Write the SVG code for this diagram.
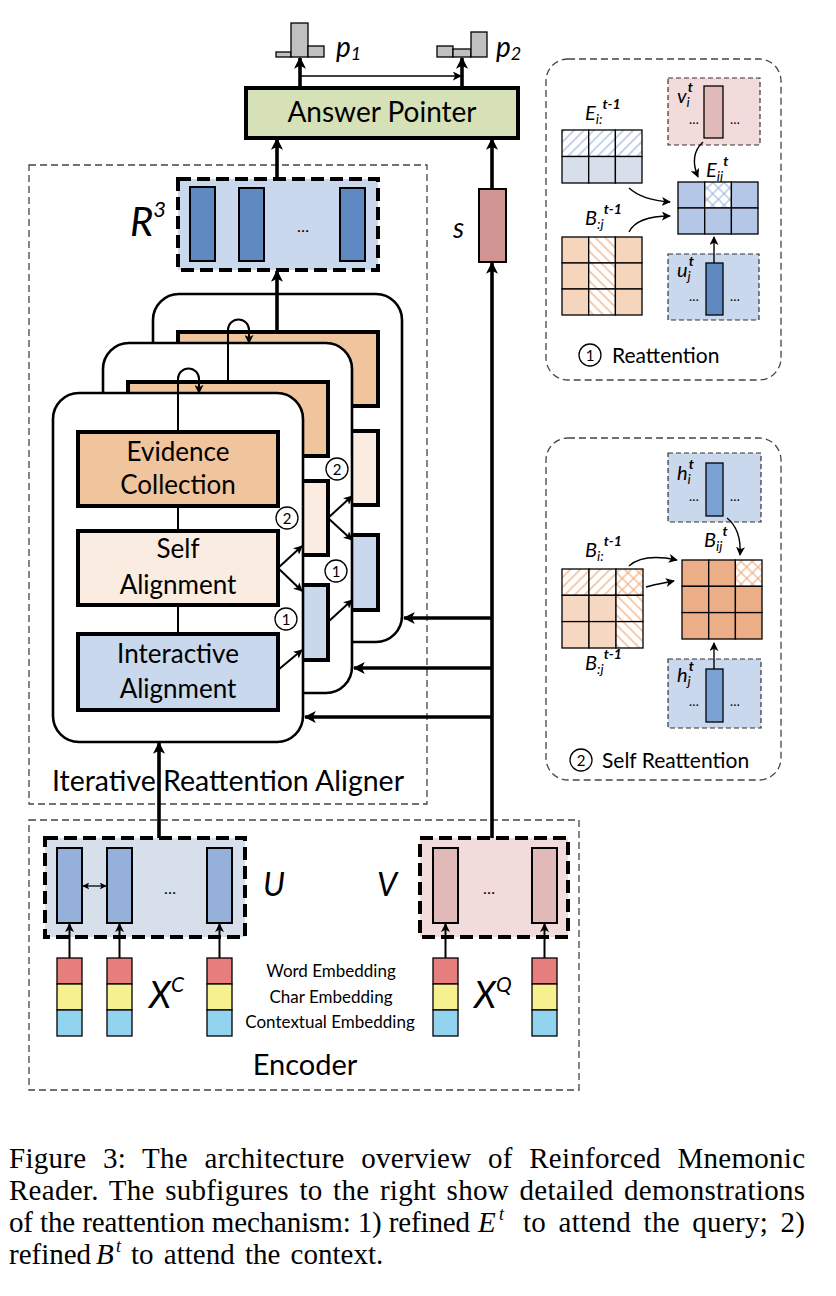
<svg xmlns="http://www.w3.org/2000/svg" width="836" height="1296" viewBox="0 0 836 1296">
<defs>
<style>
.t{font-family:Lato,"Liberation Sans",sans-serif;fill:#000}
.it{font-family:Lato,"Liberation Sans",sans-serif;font-style:italic;fill:#000}
.cap{font-family:"Liberation Serif","Times New Roman",serif;font-size:29px;fill:#000}
.sup{font-family:"Liberation Serif","Times New Roman",serif;font-size:18px;font-style:italic;fill:#000}
.box{stroke:#000;stroke-width:4}
.card{fill:#fff;stroke:#000;stroke-width:2.6}
.bar{stroke:#000;stroke-width:2}
.thin{stroke:#000;stroke-width:1.3}
.dash{stroke:#000;stroke-width:4;stroke-dasharray:13 6}
.sdash{stroke:#333;stroke-width:1.2;stroke-dasharray:5 3}
.odash{fill:none;stroke:#444;stroke-width:1.3;stroke-dasharray:7 4}
.ln{fill:none;stroke:#000;stroke-width:2}
.thk{fill:none;stroke:#000;stroke-width:3.6}
.c{fill:#fff;stroke:#000;stroke-width:1.3}
</style>
<marker id="ah" viewBox="0 0 10 10" refX="9" refY="5" markerWidth="12" markerHeight="12" markerUnits="userSpaceOnUse" orient="auto"><path d="M0,0 L10,5 L0,10 L2.5,5 z" fill="#000"/></marker>
<marker id="as" viewBox="0 0 10 10" refX="9" refY="5" markerWidth="9" markerHeight="9" markerUnits="userSpaceOnUse" orient="auto"><path d="M0,0 L10,5 L0,10 L2.5,5 z" fill="#000"/></marker>
<marker id="ad" viewBox="0 0 10 10" refX="9" refY="5" markerWidth="7" markerHeight="7" markerUnits="userSpaceOnUse" orient="auto-start-reverse"><path d="M0,0 L10,5 L0,10 L2.5,5 z" fill="#000"/></marker>
<pattern id="hbF" width="7" height="7" patternUnits="userSpaceOnUse" patternTransform="rotate(45)"><rect width="7" height="7" fill="#fff"/><line x1="1" y1="0" x2="1" y2="7" stroke="#9DB5DD" stroke-width="1.2"/></pattern>
<pattern id="hoB" width="7" height="7" patternUnits="userSpaceOnUse" patternTransform="rotate(-45)"><rect width="7" height="7" fill="#fff"/><line x1="1" y1="0" x2="1" y2="7" stroke="#F0A878" stroke-width="1.2"/></pattern>
<pattern id="hoF" width="7" height="7" patternUnits="userSpaceOnUse" patternTransform="rotate(45)"><rect width="7" height="7" fill="#fff"/><line x1="1" y1="0" x2="1" y2="7" stroke="#F0A878" stroke-width="1.2"/></pattern>
<pattern id="xb" width="8" height="8" patternUnits="userSpaceOnUse" patternTransform="rotate(45)"><rect width="8" height="8" fill="#fff"/><line x1="1" y1="0" x2="1" y2="8" stroke="#9DB5DD" stroke-width="1.1"/><line x1="0" y1="1" x2="8" y2="1" stroke="#9DB5DD" stroke-width="1.1"/></pattern>
<pattern id="xo" width="8" height="8" patternUnits="userSpaceOnUse" patternTransform="rotate(45)"><rect width="8" height="8" fill="#fff"/><line x1="1" y1="0" x2="1" y2="8" stroke="#F0A878" stroke-width="1.1"/><line x1="0" y1="1" x2="8" y2="1" stroke="#F0A878" stroke-width="1.1"/></pattern>
</defs>
<rect width="836" height="1296" fill="#fff"/>

<!-- outer dashed regions -->
<g id="aligner-region">
<rect x="29" y="165" width="398" height="639" class="odash"/>
<text x="228" y="791" class="t" font-size="28.5" text-anchor="middle">Iterative Reattention Aligner</text>
</g>
<g id="encoder-region">
<rect x="29" y="820" width="550" height="270" class="odash"/>
<text x="305" y="1075" class="t" font-size="29" text-anchor="middle">Encoder</text>
</g>

<!-- output -->
<g id="p1">
<rect x="276" y="52" width="15" height="5" fill="#C0C0C0" class="thin"/>
<rect x="291" y="23" width="17" height="34" fill="#C0C0C0" class="thin"/>
<rect x="308" y="46" width="16" height="11" fill="#C0C0C0" class="thin"/>
<text x="336" y="57" class="it" font-size="28">p<tspan font-size="18" dy="3">1</tspan></text>
</g>
<g id="p2">
<rect x="437" y="46" width="16" height="11" fill="#C0C0C0" class="thin"/>
<rect x="453" y="49" width="18" height="8" fill="#C0C0C0" class="thin"/>
<rect x="471" y="32" width="16" height="25" fill="#C0C0C0" class="thin"/>
<text x="496" y="57" class="it" font-size="28">p<tspan font-size="18" dy="3">2</tspan></text>
</g>
<g id="answer-pointer">
<rect x="246" y="88" width="272" height="50" fill="#D6E1B8" class="box"/>
<text x="382" y="122" class="t" font-size="28" text-anchor="middle">Answer Pointer</text>
</g>
<g id="R3">
<rect x="178" y="179" width="200" height="91" fill="#C9D8ED" class="dash"/>
<rect x="190" y="187" width="25" height="74" fill="#5F8AC1" class="bar"/>
<rect x="239" y="188" width="25" height="73" fill="#5F8AC1" class="bar"/>
<rect x="340" y="188" width="25" height="73" fill="#5F8AC1" class="bar"/>
<text x="303" y="232" class="t" font-size="16" text-anchor="middle">…</text>
<text x="130" y="236" class="it" font-size="40">R<tspan font-size="22" dy="-19">3</tspan></text>
</g>
<g id="s">
<rect x="479" y="189" width="27" height="73" fill="#D09592" class="bar"/>
<text x="453" y="238" class="it" font-size="28">s</text>
</g>

<!-- stacked aligner cards -->
<g id="card3">
<rect x="153" y="294" width="249" height="348" rx="26" class="card"/>
<rect x="178" y="332" width="200" height="74" fill="#F0C49C" class="box"/>
<rect x="178" y="431" width="200" height="74" fill="#FAECE1" class="box"/>
<rect x="178" y="535" width="200" height="75" fill="#C9D8ED" class="box"/>
</g>
<g id="card2">
<rect x="103" y="343" width="249" height="350" rx="26" class="card"/>
<rect x="128" y="382" width="200" height="74" fill="#F0C49C" class="box"/>
<rect x="128" y="481" width="200" height="74" fill="#FAECE1" class="box"/>
<rect x="128" y="585" width="200" height="75" fill="#C9D8ED" class="box"/>
</g>
<g id="card1">
<rect x="53" y="393" width="250" height="349" rx="26" class="card"/>
</g>
<g id="evidence-collection">
<rect x="78" y="432" width="200" height="74" fill="#F0C49C" class="box"/>
<text x="178" y="461" class="t" font-size="26" text-anchor="middle">Evidence</text>
<text x="178" y="494" class="t" font-size="26" text-anchor="middle">Collection</text>
</g>
<g id="self-alignment">
<rect x="78" y="531" width="200" height="74" fill="#FAECE1" class="box"/>
<text x="178" y="558" class="t" font-size="26" text-anchor="middle">Self</text>
<text x="178" y="594" class="t" font-size="26" text-anchor="middle">Alignment</text>
</g>
<g id="interactive-alignment">
<rect x="78" y="634" width="200" height="76" fill="#C9D8ED" class="box"/>
<text x="178" y="663" class="t" font-size="26" text-anchor="middle">Interactive</text>
<text x="178" y="698" class="t" font-size="26" text-anchor="middle">Alignment</text>
</g>

<!-- encoder -->
<g id="U">
<rect x="45" y="838" width="200" height="99" fill="#D7E0EA" class="dash"/>
<rect x="57" y="848" width="25" height="75" fill="#95B1D9" class="bar"/>
<rect x="107" y="848" width="25" height="75" fill="#95B1D9" class="bar"/>
<rect x="207" y="848" width="25" height="75" fill="#95B1D9" class="bar"/>
<text x="170" y="894" class="t" font-size="16" text-anchor="middle">…</text>
<text x="263" y="896" class="it" font-size="32">U</text>
</g>
<g id="V">
<rect x="420" y="838" width="148" height="99" fill="#F2DCDB" class="dash"/>
<rect x="433" y="848" width="25" height="75" fill="#E0B9B8" class="bar"/>
<rect x="532" y="848" width="25" height="75" fill="#E0B9B8" class="bar"/>
<text x="489" y="894" class="t" font-size="16" text-anchor="middle">…</text>
<text x="377" y="896" class="it" font-size="32">V</text>
</g>
<g id="XC">
<g class="thin">
<rect x="57" y="958" width="25" height="26" fill="#E67E7E"/><rect x="57" y="984" width="25" height="26" fill="#F6F08E"/><rect x="57" y="1010" width="25" height="26" fill="#92D3F0"/>
<rect x="107" y="958" width="25" height="26" fill="#E67E7E"/><rect x="107" y="984" width="25" height="26" fill="#F6F08E"/><rect x="107" y="1010" width="25" height="26" fill="#92D3F0"/>
<rect x="207" y="958" width="25" height="26" fill="#E67E7E"/><rect x="207" y="984" width="25" height="26" fill="#F6F08E"/><rect x="207" y="1010" width="25" height="26" fill="#92D3F0"/>
</g>
<text x="149" y="1008" class="it" font-size="36">X<tspan font-size="21" dy="-16">C</tspan></text>
</g>
<g id="XQ">
<g class="thin">
<rect x="433" y="958" width="25" height="26" fill="#E67E7E"/><rect x="433" y="984" width="25" height="26" fill="#F6F08E"/><rect x="433" y="1010" width="25" height="26" fill="#92D3F0"/>
<rect x="532" y="958" width="25" height="26" fill="#E67E7E"/><rect x="532" y="984" width="25" height="26" fill="#F6F08E"/><rect x="532" y="1010" width="25" height="26" fill="#92D3F0"/>
</g>
<text x="474" y="1008" class="it" font-size="36">X<tspan font-size="21" dy="-16">Q</tspan></text>
</g>
<g id="embedding-legend">
<text x="331" y="977" class="t" font-size="17" text-anchor="middle">Word Embedding</text>
<text x="331" y="1003" class="t" font-size="17" text-anchor="middle">Char Embedding</text>
<text x="330" y="1028" class="t" font-size="17" text-anchor="middle">Contextual Embedding</text>
</g>

<!-- subfigure 1 -->
<g id="reattention">
<rect x="546" y="59" width="235" height="321" rx="22" class="odash"/>
<rect x="668" y="78" width="92" height="67" fill="#F2DCDB" class="sdash"/>
<rect x="704" y="86" width="19" height="52" fill="#E0B9B8" class="thin"/>
<text x="694" y="124" class="t" font-size="13" text-anchor="middle">…</text>
<text x="735" y="124" class="t" font-size="13" text-anchor="middle">…</text>
<text x="677" y="103" class="it" font-size="20">v<tspan font-size="14" dy="4">i</tspan><tspan font-size="14" font-weight="bold" dx="-2" dy="-15">t</tspan></text>
<g class="thin">
<rect x="562" y="130" width="26.7" height="26.5" fill="url(#hbF)"/><rect x="588.7" y="130" width="26.7" height="26.5" fill="url(#hbF)"/><rect x="615.4" y="130" width="26.6" height="26.5" fill="url(#hbF)"/>
<rect x="562" y="156.5" width="26.7" height="26.5" fill="#D6DFEA"/><rect x="588.7" y="156.5" width="26.7" height="26.5" fill="#D6DFEA"/><rect x="615.4" y="156.5" width="26.6" height="26.5" fill="#D6DFEA"/>
</g>
<text x="585" y="120" class="it" font-size="20">E<tspan font-size="14" dy="4">i:</tspan><tspan font-size="14" font-weight="bold" dy="-15">t-1</tspan></text>
<text x="585" y="225" class="it" font-size="20">B<tspan font-size="14" dy="4">:j</tspan><tspan font-size="14" font-weight="bold" dy="-15">t-1</tspan></text>
<g class="thin">
<rect x="562" y="237" width="26.7" height="26" fill="#F6D5BD"/><rect x="588.7" y="237" width="26.7" height="26" fill="url(#hoB)"/><rect x="615.4" y="237" width="26.6" height="26" fill="#F6D5BD"/>
<rect x="562" y="263" width="26.7" height="26" fill="#F6D5BD"/><rect x="588.7" y="263" width="26.7" height="26" fill="url(#hoB)"/><rect x="615.4" y="263" width="26.6" height="26" fill="#F6D5BD"/>
<rect x="562" y="289" width="26.7" height="26" fill="#F6D5BD"/><rect x="588.7" y="289" width="26.7" height="26" fill="url(#hoB)"/><rect x="615.4" y="289" width="26.6" height="26" fill="#F6D5BD"/>
</g>
<text x="706" y="177" class="it" font-size="20">E<tspan font-size="14" dy="4">ij</tspan><tspan font-size="14" font-weight="bold" dy="-15">t</tspan></text>
<g class="thin">
<rect x="678" y="182" width="26.7" height="26" fill="#B4C7E7"/><rect x="704.7" y="182" width="26.7" height="26" fill="url(#xb)"/><rect x="731.4" y="182" width="26.6" height="26" fill="#B4C7E7"/>
<rect x="678" y="208" width="26.7" height="26" fill="#B4C7E7"/><rect x="704.7" y="208" width="26.7" height="26" fill="#B4C7E7"/><rect x="731.4" y="208" width="26.6" height="26" fill="#B4C7E7"/>
</g>
<rect x="668" y="254" width="91" height="66" fill="#C9D8ED" class="sdash"/>
<rect x="706" y="263" width="17" height="52" fill="#5F8AC1" class="thin"/>
<text x="694" y="301" class="t" font-size="13" text-anchor="middle">…</text>
<text x="735" y="301" class="t" font-size="13" text-anchor="middle">…</text>
<text x="677" y="277" class="it" font-size="20">u<tspan font-size="14" dy="4">j</tspan><tspan font-size="14" font-weight="bold" dx="-2" dy="-15">t</tspan></text>
<circle cx="590" cy="355" r="11" class="c"/>
<text x="590" y="361" class="t" font-size="15" text-anchor="middle">1</text>
<text x="612" y="363" class="t" font-size="21">Reattention</text>
</g>

<!-- subfigure 2 -->
<g id="self-reattention">
<rect x="546" y="438" width="235" height="342" rx="22" class="odash"/>
<rect x="668" y="453" width="93" height="69" fill="#C9D8ED" class="sdash"/>
<rect x="706" y="463" width="17" height="53" fill="#7BA2D4" class="thin"/>
<text x="694" y="501" class="t" font-size="13" text-anchor="middle">…</text>
<text x="735" y="501" class="t" font-size="13" text-anchor="middle">…</text>
<text x="677" y="480" class="it" font-size="20">h<tspan font-size="14" dy="4">i</tspan><tspan font-size="14" font-weight="bold" dx="-2" dy="-15">t</tspan></text>
<text x="704" y="547" class="it" font-size="20">B<tspan font-size="14" dy="4">ij</tspan><tspan font-size="14" font-weight="bold" dy="-15">t</tspan></text>
<g class="thin">
<rect x="682" y="560" width="26.7" height="26.3" fill="#EBAE87"/><rect x="708.7" y="560" width="26.7" height="26.3" fill="#EBAE87"/><rect x="735.4" y="560" width="26.6" height="26.3" fill="url(#xo)"/>
<rect x="682" y="586.3" width="26.7" height="26.3" fill="#EBAE87"/><rect x="708.7" y="586.3" width="26.7" height="26.3" fill="#EBAE87"/><rect x="735.4" y="586.3" width="26.6" height="26.3" fill="#EBAE87"/>
<rect x="682" y="612.6" width="26.7" height="26.4" fill="#EBAE87"/><rect x="708.7" y="612.6" width="26.7" height="26.4" fill="#EBAE87"/><rect x="735.4" y="612.6" width="26.6" height="26.4" fill="#EBAE87"/>
</g>
<text x="585" y="557" class="it" font-size="20">B<tspan font-size="14" dy="4">i:</tspan><tspan font-size="14" font-weight="bold" dy="-15">t-1</tspan></text>
<g class="thin">
<rect x="562" y="569" width="27" height="26.3" fill="url(#hoF)"/><rect x="589" y="569" width="27" height="26.3" fill="url(#hoF)"/><rect x="616" y="569" width="27" height="26.3" fill="url(#xo)"/>
<rect x="562" y="595.3" width="27" height="26.3" fill="#F6D8C2"/><rect x="589" y="595.3" width="27" height="26.3" fill="#F6D8C2"/><rect x="616" y="595.3" width="27" height="26.3" fill="url(#hoB)"/>
<rect x="562" y="621.6" width="27" height="26.4" fill="#F6D8C2"/><rect x="589" y="621.6" width="27" height="26.4" fill="#F6D8C2"/><rect x="616" y="621.6" width="27" height="26.4" fill="url(#hoB)"/>
</g>
<text x="585" y="670" class="it" font-size="20">B<tspan font-size="14" dy="4">:j</tspan><tspan font-size="14" font-weight="bold" dy="-15">t-1</tspan></text>
<rect x="668" y="659" width="93" height="69" fill="#C9D8ED" class="sdash"/>
<rect x="706" y="669" width="17" height="53" fill="#7BA2D4" class="thin"/>
<text x="694" y="706" class="t" font-size="13" text-anchor="middle">…</text>
<text x="735" y="706" class="t" font-size="13" text-anchor="middle">…</text>
<text x="677" y="682" class="it" font-size="20">h<tspan font-size="14" dy="4">j</tspan><tspan font-size="14" font-weight="bold" dx="-2" dy="-15">t</tspan></text>
<circle cx="581" cy="760" r="11" class="c"/>
<text x="581" y="766" class="t" font-size="15" text-anchor="middle">2</text>
<text x="602" y="768" class="t" font-size="21">Self Reattention</text>
</g>

<!-- connectors -->
<g id="connectors">
<path d="M300,88 V58" class="thk" marker-end="url(#ah)"/>
<path d="M462,88 V58" class="thk" marker-end="url(#ah)"/>
<path d="M300,76 H461" fill="none" stroke="#000" stroke-width="1.3" marker-end="url(#as)"/>
<path d="M277,179 V139" class="thk" marker-end="url(#ah)"/>
<path d="M492,189 V139" class="thk" marker-end="url(#ah)"/>
<path d="M277,332 V271" class="thk" marker-end="url(#ah)"/>
<path d="M492,838 V263" class="thk" marker-end="url(#ah)"/>
<path d="M159,838 V743" class="thk" marker-end="url(#ah)"/>
<path d="M493,618 H404" class="thk" marker-end="url(#ah)"/>
<path d="M493,668 H354" class="thk" marker-end="url(#ah)"/>
<path d="M493,717 H305" class="thk" marker-end="url(#ah)"/>
<path d="M178,432 V379 A10.5,10.5 0 0 1 199,379 V393" class="ln" marker-end="url(#as)"/>
<path d="M228,382 V330 A10.5,10.5 0 0 1 249,330 V343" class="ln" marker-end="url(#as)"/>
<path d="M178,506 V531 M178,605 V634" class="ln"/>
<path d="M278,670 L302,650" class="ln" marker-end="url(#as)"/>
<path d="M278,568 L302,546" class="ln" marker-end="url(#as)"/>
<path d="M278,568 L302,591" class="ln" marker-end="url(#as)"/>
<path d="M328,518 L352,496" class="ln" marker-end="url(#as)"/>
<path d="M328,518 L352,540" class="ln" marker-end="url(#as)"/>
<path d="M328,622 L352,600" class="ln" marker-end="url(#as)"/>
<path d="M69.5,958 V924" class="ln" marker-end="url(#as)"/>
<path d="M119.5,958 V924" class="ln" marker-end="url(#as)"/>
<path d="M219.5,958 V924" class="ln" marker-end="url(#as)"/>
<path d="M445.5,958 V924" class="ln" marker-end="url(#as)"/>
<path d="M544.5,958 V924" class="ln" marker-end="url(#as)"/>
<path d="M83,886 H106" fill="none" stroke="#000" stroke-width="1.3" marker-start="url(#ad)" marker-end="url(#ad)"/>
<path d="M703,142 C692,152 693,165 698,177" fill="none" stroke="#000" stroke-width="1.4" marker-end="url(#as)"/>
<path d="M714,263 V237" fill="none" stroke="#000" stroke-width="1.4" marker-end="url(#as)"/>
<path d="M629,188 C640,198 655,201 670,202" fill="none" stroke="#000" stroke-width="1.4" marker-end="url(#as)"/>
<path d="M629,232 C635,220 650,216 670,216" fill="none" stroke="#000" stroke-width="1.4" marker-end="url(#as)"/>
<path d="M727,518 C737,526 741,540 740,555" fill="none" stroke="#000" stroke-width="1.4" marker-end="url(#as)"/>
<path d="M629,566 C640,556 658,556 677,560" fill="none" stroke="#000" stroke-width="1.4" marker-end="url(#as)"/>
<path d="M646,587 C656,584 664,583 674,581" fill="none" stroke="#000" stroke-width="1.4" marker-end="url(#as)"/>
<path d="M714,669 V643" fill="none" stroke="#000" stroke-width="1.4" marker-end="url(#as)"/>
</g>

<g id="step-labels">
<circle cx="287" cy="518" r="11" class="c"/><text x="287" y="524" class="t" font-size="15" text-anchor="middle">2</text>
<circle cx="286" cy="619" r="11" class="c"/><text x="286" y="625" class="t" font-size="15" text-anchor="middle">1</text>
<circle cx="337" cy="469" r="11" class="c"/><text x="337" y="475" class="t" font-size="15" text-anchor="middle">2</text>
<circle cx="336" cy="571" r="11" class="c"/><text x="336" y="577" class="t" font-size="15" text-anchor="middle">1</text>
</g>

<!-- caption -->
<g id="caption">
<text x="9" y="1168" class="cap" style="word-spacing:9px" textLength="796" lengthAdjust="spacing">Figure 3: The architecture overview of Reinforced Mnemonic</text>
<text x="9" y="1200" class="cap" style="word-spacing:3px" textLength="796" lengthAdjust="spacing">Reader. The subfigures to the right show detailed demonstrations</text>
<text x="9" y="1232" class="cap" textLength="461" lengthAdjust="spacing">of the reattention mechanism: 1) refined</text>
<text x="478" y="1232" class="cap" font-style="italic">E</text>
<text x="499" y="1220" class="sup">t</text>
<text x="523" y="1232" class="cap" style="word-spacing:5px" textLength="282" lengthAdjust="spacing">to attend the query; 2)</text>
<text x="9" y="1264" class="cap">refined</text>
<text x="96" y="1264" class="cap" font-style="italic">B</text>
<text x="116" y="1252" class="sup">t</text>
<text x="131" y="1264" class="cap" style="word-spacing:3px">to attend the context.</text>
</g>
</svg>
